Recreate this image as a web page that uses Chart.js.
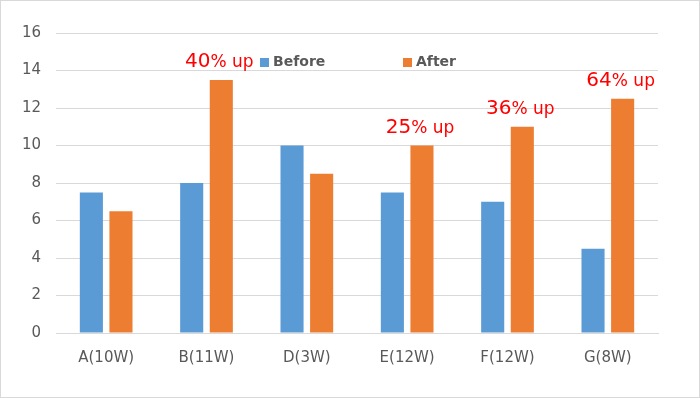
<!DOCTYPE html>
<html>
<head>
<meta charset="utf-8">
<script src="https://cdn.jsdelivr.net/npm/chart.js@4.4.0/dist/chart.umd.min.js"></script>
<style>
  html, body { margin: 0; padding: 0; background: #fff; }
  #wrap { width: 700px; height: 398px; box-sizing: border-box; border: 1px solid #d9d9d9; }
  canvas { display: block; }
</style>
</head>
<body>
<div id="wrap"><canvas id="myChart" width="698" height="396"></canvas></div>
<script>
var categories = ['A(10W)', 'B(11W)', 'D(3W)', 'E(12W)', 'F(12W)', 'G(8W)'];
var beforeValues = [7.5, 8, 10, 7.5, 7, 4.5];
var afterValues = [6.5, 13.5, 8.5, 10, 11, 12.5];
// red notes above the "After" bars ('' = none)
var upNumbers = ['', '40', '', '25', '36', '64'];
var upSuffix = '% up';

var blue = '#5B9BD5';
var orange = '#ED7D31';
var textGray = '#595959';
var fontName = '"DejaVu Sans", Verdana, sans-serif';

// legend drawn inside the plot area, like the Excel original
var legendPlugin = {
    id: 'innerLegend',
    afterDraw: function(chart) {
        var ctx = chart.ctx;
        var items = [
            { x: 259, label: 'Before', color: blue },
            { x: 402, label: 'After', color: orange }
        ];
        ctx.save();
        ctx.font = 'bold 14px ' + fontName;
        ctx.textBaseline = 'middle';
        ctx.textAlign = 'left';
        items.forEach(function(it) {
            ctx.fillStyle = it.color;
            ctx.fillRect(it.x, 57, 9, 9);
            ctx.fillStyle = textGray;
            ctx.fillText(it.label, it.x + 13, 61);
        });
        ctx.restore();
    }
};

// "xx% up" notes positioned from the orange bars
var notesPlugin = {
    id: 'upNotes',
    afterDatasetsDraw: function(chart) {
        var ctx = chart.ctx;
        var meta = chart.getDatasetMeta(1);
        ctx.save();
        ctx.fillStyle = '#FF0000';
        ctx.textBaseline = 'alphabetic';
        ctx.textAlign = 'left';
        meta.data.forEach(function(bar, i) {
            if (!upNumbers[i]) return;
            ctx.font = '20px ' + fontName;
            var w1 = ctx.measureText(upNumbers[i]).width;
            ctx.font = '17px ' + fontName;
            var w2 = ctx.measureText(upSuffix).width;
            var x0 = bar.x - 2 - (w1 + w2) / 2;
            var y0 = bar.y - 13;
            ctx.font = '20px ' + fontName;
            ctx.fillText(upNumbers[i], x0, y0);
            ctx.font = '17px ' + fontName;
            ctx.fillText(upSuffix, x0 + w1, y0);
        });
        ctx.restore();
    }
};

var ctx = document.getElementById('myChart').getContext('2d');
var chart = new Chart(ctx, {
    type: 'bar',
    data: {
        labels: categories,
        datasets: [{
            label: 'Before',
            backgroundColor: blue,
            data: beforeValues
        }, {
            label: 'After',
            backgroundColor: orange,
            data: afterValues
        }]
    },
    options: {
        responsive: false,
        animation: false,
        categoryPercentage: 0.59,
        barPercentage: 0.78,
        layout: { padding: { top: 32, right: 41, left: 0, bottom: 0 } },
        plugins: {
            legend: { display: false },
            tooltip: { enabled: false }
        },
        scales: {
            x: {
                grid: { display: false },
                border: { display: true, color: '#d9d9d9' },
                ticks: { color: textGray, font: { family: fontName, size: 15 }, padding: 8 },
                afterFit: function(axis) { axis.height = 64; }
            },
            y: {
                min: 0,
                max: 16,
                grid: { color: '#d9d9d9', drawTicks: false },
                border: { display: false },
                ticks: { stepSize: 2, color: textGray, font: { family: fontName, size: 15 }, padding: 15 },
                afterFit: function(axis) { axis.width = 55; }
            }
        }
    },
    plugins: [legendPlugin, notesPlugin]
});
</script>
</body>
</html>
